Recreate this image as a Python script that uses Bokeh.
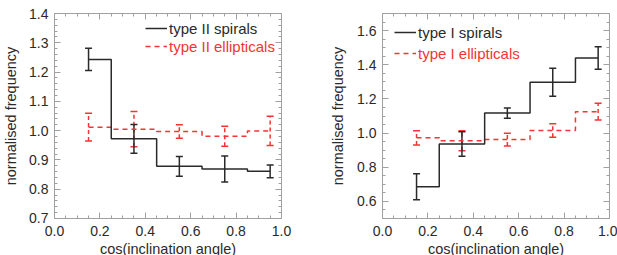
from bokeh.plotting import figure
from bokeh.models import (Range1d, SingleIntervalTicker, LinearAxis, PrintfTickFormatter,
                          ColumnDataSource, Whisker, TeeHead, Legend, LegendItem,
                          CustomLabelingPolicy)
from bokeh.layouts import row
from bokeh.embed import file_html
from bokeh.resources import INLINE

# ---- data ----
x_centers = [0.15, 0.35, 0.55, 0.75, 0.95]

left_spiral = [1.243, 0.972, 0.878, 0.869, 0.861]
left_spiral_err = [0.038, 0.049, 0.034, 0.044, 0.022]
left_ell = [1.012, 1.005, 0.997, 0.981, 0.999]
left_ell_err = [0.047, 0.060, 0.023, 0.034, 0.050]

right_spiral = [0.686, 0.936, 1.117, 1.298, 1.440]
right_spiral_err = [0.076, 0.072, 0.030, 0.082, 0.066]
right_ell = [0.972, 0.955, 0.962, 1.015, 1.125]
right_ell_err = [0.042, 0.059, 0.037, 0.040, 0.049]

left_labels = ["type II spirals", "type II ellipticals"]
right_labels = ["type I spirals", "type I ellipticals"]

FONT = "Liberation Sans"
BLACK = "#2a2a2a"
RED = "#f23434"
FRAME = "#a0a0a0"


def style_axis(ax, show_labels=True):
    ax.axis_line_color = FRAME
    ax.major_tick_line_color = FRAME
    ax.minor_tick_line_color = FRAME
    ax.major_tick_in = 6
    ax.major_tick_out = 0
    ax.minor_tick_in = 3
    ax.minor_tick_out = 0
    ax.major_label_text_font = FONT
    ax.axis_label_text_font = FONT
    ax.axis_label_text_font_style = "normal"
    ax.axis_label_text_color = BLACK
    ax.major_label_text_color = BLACK
    if show_labels:
        ax.major_label_text_font_size = "14px"
        ax.axis_label_text_font_size = "14.5px"
    else:
        ax.major_label_text_font_size = "1px"
        ax.major_label_standoff = 0
        ax.major_label_policy = CustomLabelingPolicy(code="return []")


def make_panel(yr, y_interval, y_minor, spiral, spiral_err, ell, ell_err, labels,
               leg1, leg2, bl, br, ylab_standoff):
    p = figure(frame_width=227, frame_height=205,
               x_range=Range1d(0, 1.0000001), y_range=Range1d(yr[0] - 1e-7, yr[1] + 1e-7),
               output_backend="svg", toolbar_location=None,
               min_border_left=bl, min_border_right=br,
               min_border_top=13, min_border_bottom=37,
               background_fill_color="white", border_fill_color="white")
    p.grid.visible = False
    p.outline_line_color = FRAME

    xt = SingleIntervalTicker(interval=0.2, num_minor_ticks=4)
    yt = SingleIntervalTicker(interval=y_interval, num_minor_ticks=y_minor)
    fmt = PrintfTickFormatter(format="%.1f")

    p.xaxis.ticker = xt
    p.yaxis.ticker = yt
    p.xaxis.formatter = fmt
    p.yaxis.formatter = fmt
    for ax in p.xaxis:
        style_axis(ax)
        ax.axis_label = "cos(inclination angle)"
        ax.major_label_standoff = 7
        ax.axis_label_standoff = 2
    for ax in p.yaxis:
        style_axis(ax)
        ax.axis_label = "normalised frequency"
        ax.major_label_standoff = 6
        ax.axis_label_standoff = ylab_standoff

    top = LinearAxis(ticker=xt, formatter=fmt)
    style_axis(top, show_labels=False)
    p.add_layout(top, "above")
    right = LinearAxis(ticker=yt, formatter=fmt)
    style_axis(right, show_labels=False)
    p.add_layout(right, "right")

    # ellipticals (red dashed)
    es = ColumnDataSource(dict(x=x_centers, y=ell,
                               lo=[v - e for v, e in zip(ell, ell_err)],
                               hi=[v + e for v, e in zip(ell, ell_err)]))
    r_ell = p.step("x", "y", source=es, mode="center", line_color=RED,
                   line_width=1.5, line_dash="5 4")
    p.add_layout(Whisker(source=es, base="x", upper="hi", lower="lo",
                         dimension="height", line_color=RED, line_width=1.5,
                         line_dash="4 3",
                         upper_head=TeeHead(size=7, line_color=RED, line_width=1.5),
                         lower_head=TeeHead(size=7, line_color=RED, line_width=1.5)))

    # spirals (black solid)
    ss = ColumnDataSource(dict(x=x_centers, y=spiral,
                               lo=[v - e for v, e in zip(spiral, spiral_err)],
                               hi=[v + e for v, e in zip(spiral, spiral_err)]))
    r_sp = p.step("x", "y", source=ss, mode="center", line_color=BLACK,
                  line_width=1.5)
    p.add_layout(Whisker(source=ss, base="x", upper="hi", lower="lo",
                         dimension="height", line_color=BLACK, line_width=1.5,
                         upper_head=TeeHead(size=7, line_color=BLACK, line_width=1.5),
                         lower_head=TeeHead(size=7, line_color=BLACK, line_width=1.5)))

    for lab, rend, col, loc in [(labels[0], r_sp, BLACK, leg1),
                                (labels[1], r_ell, RED, leg2)]:
        lg = Legend(items=[LegendItem(label=lab, renderers=[rend])],
                    location=loc, label_text_font=FONT, label_text_font_size="15px",
                    label_text_color=col, glyph_width=22, glyph_height=28,
                    label_height=20, label_standoff=2, padding=0, margin=0,
                    spacing=0, border_line_alpha=0, background_fill_alpha=0)
        p.add_layout(lg, "center")
    return p


p1 = make_panel((0.7, 1.4), 0.1, 5, left_spiral, left_spiral_err, left_ell, left_ell_err,
                left_labels, (91, 176), (91, 158), 54, 29, 7)
p2 = make_panel((0.5, 1.7), 0.2, 4, right_spiral, right_spiral_err, right_ell, right_ell_err,
                right_labels, (12, 172), (12, 151), 72, 8, 8)

layout = row(p1, p2)
open("out.html", "w").write(file_html(layout, INLINE))
